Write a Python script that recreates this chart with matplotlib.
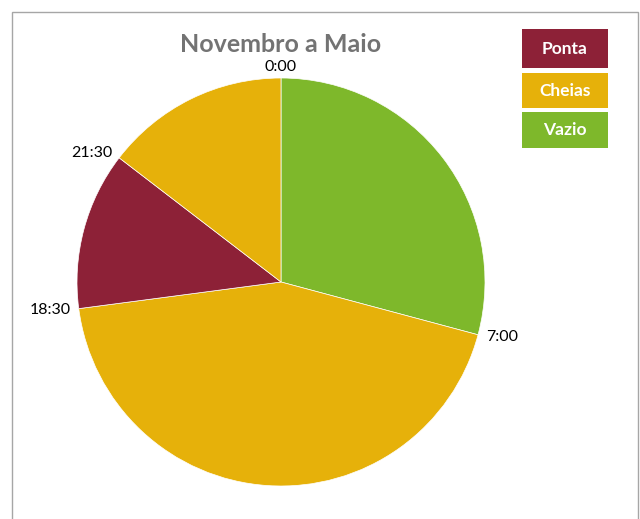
import numpy as np
import matplotlib
matplotlib.use("Agg")
import matplotlib.pyplot as plt
from matplotlib.patches import Rectangle

# Data (hours per period, clockwise from 0:00)
periods = ["Vazio", "Cheias", "Ponta", "Cheias"]
hours = [7, 10.5, 3, 3.5]
start_labels = ["0:00", "7:00", "18:30", "21:30"]
legend_names = ["Ponta", "Cheias", "Vazio"]
title = "Novembro a Maio"

colors_map = {"Ponta": "#8D2137", "Cheias": "#E6B10A", "Vazio": "#7EB82B"}

fig = plt.figure(figsize=(6.4, 5.19), dpi=100)

# outer frame
fig.patches.append(Rectangle((12/640, -0.05), (638-12)/640, 1.05 - 12/519,
                             transform=fig.transFigure, fill=False,
                             edgecolor="#A6A6A6", linewidth=1.0))

ax = fig.add_axes([77/640, 33/519, 408/640, 408/519])
wedge_colors = [colors_map[p] for p in periods]
ax.pie(hours, colors=wedge_colors, startangle=90, counterclock=False,
       radius=1.0, wedgeprops=dict(linewidth=0.5, edgecolor="white"))
ax.set_xlim(-1, 1)
ax.set_ylim(-1, 1)
ax.set_aspect("equal")
ax.axis("off")

# boundary labels
total = sum(hours)
cum = np.concatenate([[0], np.cumsum(hours)[:-1]])
for c, lab in zip(cum, start_labels):
    ang = np.deg2rad(90 - c / total * 360)
    x, y = np.cos(ang), np.sin(ang)
    if abs(x) < 0.05:
        ha = "center"
    elif x > 0:
        ha = "left"
    else:
        ha = "right"
    top = y > 0.95
    r = 1.02 if top else 1.04
    ax.text(r * x, r * y, lab, ha=ha,
            va="bottom" if top else "center",
            fontsize=11.5, family="Lato", color="black")

# title
fig.text(281/640, 1 - 44/519, title, ha="center", va="center",
         fontsize=18, fontweight="bold", family="Lato", color="#737373")

# legend boxes
box_y = [29, 73, 112]
box_h = [39, 35, 36]
for name, yt, h in zip(legend_names, box_y, box_h):
    fig.patches.append(Rectangle((522/640, 1 - (yt + h)/519), 86/640, h/519,
                                 transform=fig.transFigure,
                                 facecolor=colors_map[name], edgecolor="none"))
    fig.text((522 + 43)/640, 1 - (yt + h/2)/519, name, ha="center", va="center",
             fontsize=12.5, fontweight="bold", family="Lato", color="white")

fig.savefig("out.png", dpi=100)
